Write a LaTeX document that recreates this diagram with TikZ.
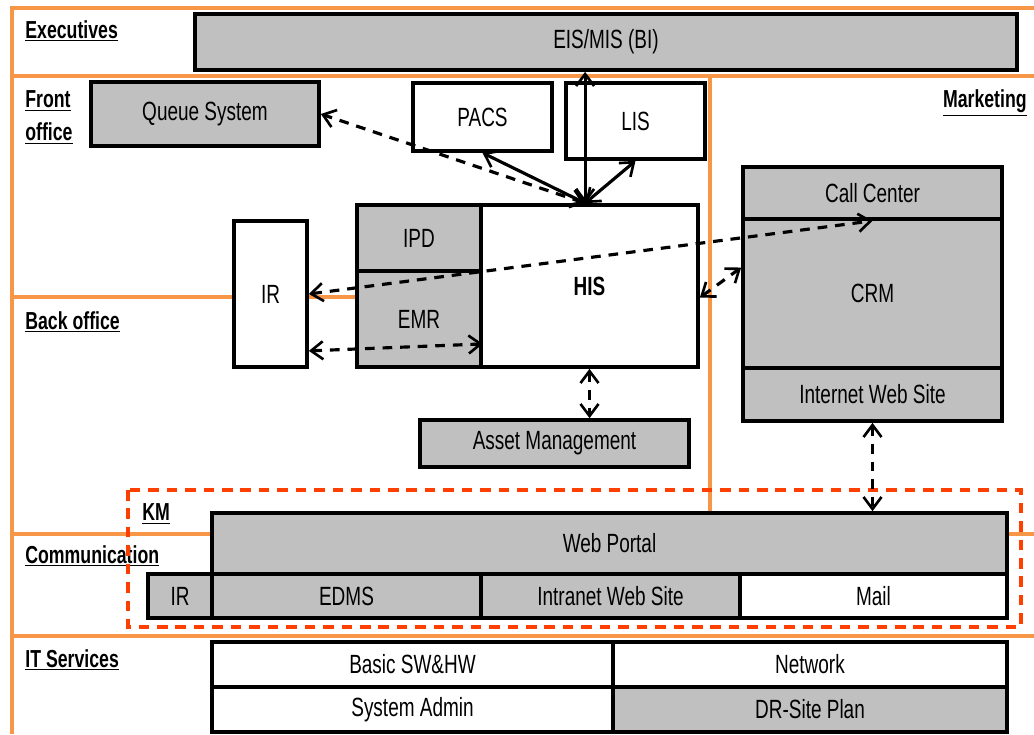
\documentclass[tikz,border=0pt]{standalone}
\usepackage{fontspec}
\setmainfont{Liberation Sans}[FakeStretch=0.72]
\usetikzlibrary{arrows.meta, calc}
\definecolor{laneorange}{HTML}{F79646}
\definecolor{kmred}{HTML}{FF3F00}
\definecolor{boxgray}{HTML}{C0C0C0}

\begin{document}
\begin{tikzpicture}[
  x=0.02cm, y=-0.02cm,
  >={Straight Barb[length=2.4mm, width=3.6mm, line width=1.5pt]},
  sbox/.style={
    draw=black, line width=2.1pt, fill=#1, inner sep=0pt,
    font=\fontsize{15}{18}\selectfont
  },
  gbox/.style={sbox=boxgray},
  wbox/.style={sbox=white},
  wh/.style 2 args={minimum width=#1*0.02cm, minimum height=#2*0.02cm},
  lane/.style={laneorange, line width=2.1pt},
  lbl/.style={font=\fontsize{14}{19}\selectfont\bfseries, anchor=west, align=left, inner sep=0pt},
  arr/.style={<->, line width=1.8pt},
  darr/.style={<->, line width=1.8pt, dash pattern=on 5.5pt off 4.5pt},
  kmbox/.style={kmred, line width=2.3pt, dash pattern=on 6pt off 4.5pt},
]

% Canvas
\useasboundingbox (0,0) rectangle (1034,734);

% Orange lanes
\draw[lane] (1034,8) -- (12,8) -- (12,734);
\draw[lane] (12,76) -- (1034,76);
\draw[lane] (710,76) -- (710,513);
\draw[lane] (12,297) -- (357,297);
\draw[lane] (12,534) -- (1034,534);
\draw[lane] (12,636) -- (1034,636);

% Lane labels
\node[lbl] (exec) at (25,31) {\underline{Executives}};
\node[lbl, anchor=north west] (front) at (25,90) {\underline{Front}\\\underline{office}};
\node[lbl, anchor=east] (mkt) at (1027,103) {\underline{Marketing}};
\node[lbl] (back) at (25,322) {\underline{Back office}};
\node[lbl] (km) at (142,514) {\underline{KM}};
\node[lbl] (comm) at (25,556) {\underline{Communication}};
\node[lbl] (itsv) at (25,660) {\underline{IT Services}};

% Executives
\node[gbox, wh={822}{56}] (eis) at (606,42) {EIS/MIS (BI)};

% Front office
\node[gbox, wh={228}{64}] (queue) at (205,114) {Queue System};
\node[wbox, wh={139}{68}] (pacs) at (482.5,117) {PACS};
\node[wbox, wh={139}{76}] (lis) at (635.5,121) {LIS};

% HIS block
\node[gbox, wh={124}{66}] (ipd) at (419,238) {IPD};
\node[gbox, wh={124}{96}] (emr) at (419,319) {EMR};
\node[wbox, wh={217}{162}, font=\fontsize{15}{18}\selectfont\bfseries] (his) at (589.5,286) {HIS};
\node[wbox, wh={73}{146}] (ir) at (270.5,294) {IR};
\node[gbox, wh={269}{47}] (asset) at (554.5,443.5) {Asset Management};

% Marketing block
\node[gbox, wh={259}{52}] (callc) at (872.5,193) {Call Center};
\node[gbox, wh={259}{149}] (crm) at (872.5,293.5) {CRM};
\node[gbox, wh={259}{53}] (iweb) at (872.5,394.5) {Internet Web Site};

% Communication
\node[gbox, wh={795}{61}] (portal) at (609.5,543.5) {Web Portal};
\node[gbox, wh={64}{44}] (irkm) at (180,596) {IR};
\node[gbox, wh={269}{44}] (edms) at (346.5,596) {EDMS};
\node[gbox, wh={259}{44}] (intra) at (610.5,596) {Intranet Web Site};
\node[wbox, wh={267}{44}] (mail) at (873.5,596) {Mail};

% IT Services
\node[wbox, wh={401}{45}] (basic) at (412.5,664.5) {Basic SW\&HW};
\node[wbox, wh={394}{45}] (netw) at (810,664.5) {Network};
\node[wbox, wh={401}{45}] (sysadm) at (412.5,709.5) {System Admin};
\node[gbox, wh={394}{45}] (drsite) at (810,709.5) {DR-Site Plan};

% KM frame
\draw[kmbox] (128,490) rectangle (1021,627);

% Links into HIS
\coordinate (hub) at ($(his.north west)!0.48!(his.north east)$);
\draw[arr] (hub) -- (hub |- eis.south);
\draw[arr] (hub) -- (pacs.south);
\draw[arr] (hub) -- (lis.south);
\draw[darr] (hub) -- (queue.east);

% Dashed links
\draw[darr] (ir.east) -- (callc.south);
\draw[darr] ($(ir.south east)!0.12!(ir.north east)$) -- ($(emr.south east)!0.25!(emr.north east)$);
\draw[darr] ($(his.south east)!0.43!(his.north east)$) -- ($(crm.south west)!0.67!(crm.north west)$);
\draw[darr] (his.south) -- (his.south |- asset.north);
\draw[darr] (iweb.south) -- (iweb.south |- portal.north);

\end{tikzpicture}
\end{document}
